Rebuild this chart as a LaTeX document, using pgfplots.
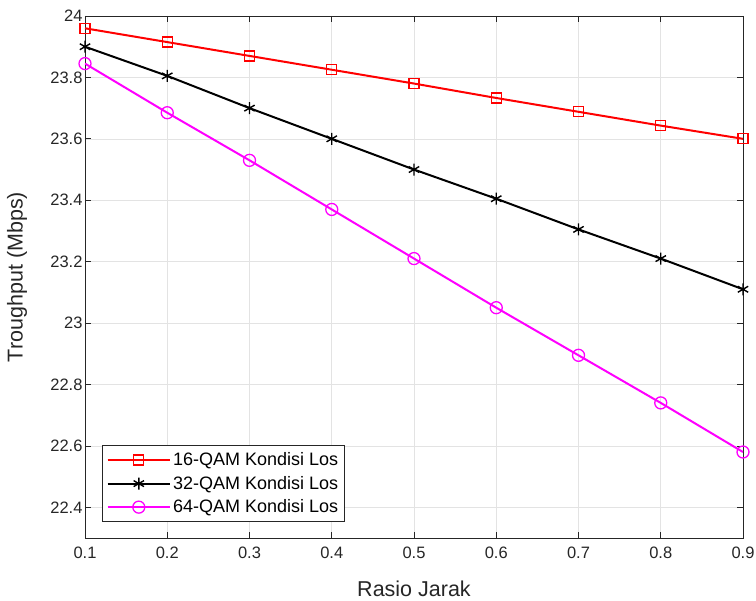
\documentclass[border=0pt]{standalone}
\usepackage{pgfplots}
\pgfplotsset{compat=1.18}
\usepackage{fontspec}
\setmainfont{Liberation Sans}
\definecolor{txt}{RGB}{38,38,38}
\definecolor{mred}{RGB}{255,0,0}
\definecolor{mmag}{RGB}{255,0,255}
\begin{document}
\begin{tikzpicture}
\begin{axis}[
  name=ax,
  scale only axis,
  width=658pt, height=522pt,
  xmin=0.1, xmax=0.9, ymin=22.3, ymax=24,
  xtick={0.1,0.2,...,0.9},
  ytick={22.4,22.6,...,24.01},
  xticklabels={0.1,0.2,0.3,0.4,0.5,0.6,0.7,0.8,0.9},
  yticklabels={22.4,22.6,22.8,23,23.2,23.4,23.6,23.8,24},
  tick align=inside,
  major tick length=6pt,
  tick style={txt, line width=0.7pt},
  grid=major,
  grid style={gray!22, line width=0.6pt},
  axis line style={txt, line width=0.8pt},
  ticklabel style={font=\fontsize{16.5}{19}\selectfont, text=txt},
  xticklabel style={yshift=-5pt},
  yticklabel style={xshift=1pt},
  xlabel={Rasio Jarak},
  ylabel={Troughput (Mbps)},
  label style={font=\fontsize{21.5}{24}\selectfont, text=txt},
  xlabel style={at={(axis description cs:0.5,-0.0977)}, anchor=center},
  ylabel style={at={(axis description cs:-0.1033,0.5)}, anchor=center},
  legend style={at={(0.026,0.031)}, anchor=south west, font=\fontsize{18}{21}\selectfont, draw=txt, line width=0.8pt, inner xsep=4pt, inner ysep=5pt, row sep=5pt},
  legend cell align=left,
  legend image code/.code={\draw[mark repeat=2,mark phase=2] plot coordinates {(0cm,0cm) (1.1cm,0cm) (2.2cm,0cm)};},
]
\addplot[mred, line width=2pt, mark=square, mark size=5pt, mark options={line width=1.2pt}] coordinates {
(0.1,23.96) (0.2,23.915) (0.3,23.87) (0.4,23.825) (0.5,23.78) (0.6,23.733) (0.7,23.688) (0.8,23.643) (0.9,23.60)};
\addlegendentry{16-QAM Kondisi Los}
\addplot[black, line width=2pt, mark=asterisk, mark size=6pt, mark options={line width=1.4pt}] coordinates {
(0.1,23.90) (0.2,23.805) (0.3,23.70) (0.4,23.60) (0.5,23.50) (0.6,23.405) (0.7,23.305) (0.8,23.21) (0.9,23.11)};
\addlegendentry{32-QAM Kondisi Los}
\addplot[mmag, line width=2pt, mark=o, mark size=6pt, mark options={line width=1.3pt}] coordinates {
(0.1,23.845) (0.2,23.685) (0.3,23.53) (0.4,23.37) (0.5,23.21) (0.6,23.05) (0.7,22.895) (0.8,22.74) (0.9,22.58)};
\addlegendentry{64-QAM Kondisi Los}
\end{axis}
\pgfresetboundingbox
\path[use as bounding box] ([xshift=-85pt,yshift=-62pt]ax.south west) rectangle ([xshift=13pt,yshift=16pt]ax.north east);
\end{tikzpicture}
\end{document}
